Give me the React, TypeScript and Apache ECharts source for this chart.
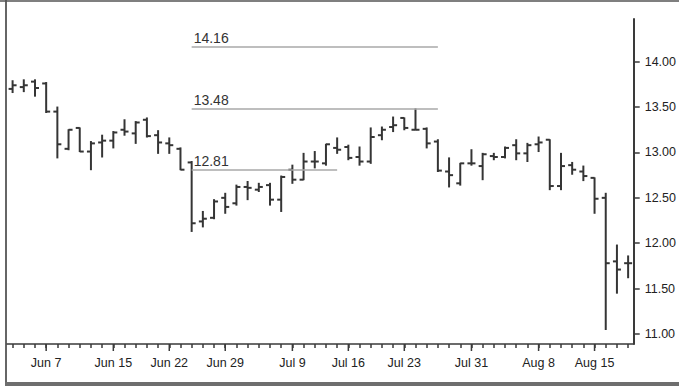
import React, { useEffect, useRef } from 'react';
import * as echarts from 'echarts';

// Trading days (weekdays) Jun 4 – Aug 20
const dates = [
  'Jun 4', 'Jun 5', 'Jun 6', 'Jun 7', 'Jun 8',
  'Jun 11', 'Jun 12', 'Jun 13', 'Jun 14', 'Jun 15',
  'Jun 18', 'Jun 19', 'Jun 20', 'Jun 21', 'Jun 22',
  'Jun 25', 'Jun 26', 'Jun 27', 'Jun 28', 'Jun 29',
  'Jul 2', 'Jul 3', 'Jul 4', 'Jul 5', 'Jul 6',
  'Jul 9', 'Jul 10', 'Jul 11', 'Jul 12', 'Jul 13',
  'Jul 16', 'Jul 17', 'Jul 18', 'Jul 19', 'Jul 20',
  'Jul 23', 'Jul 24', 'Jul 25', 'Jul 26', 'Jul 27',
  'Jul 30', 'Jul 31', 'Aug 1', 'Aug 2', 'Aug 3',
  'Aug 6', 'Aug 7', 'Aug 8', 'Aug 9', 'Aug 10',
  'Aug 13', 'Aug 14', 'Aug 15', 'Aug 16', 'Aug 17',
  'Aug 20',
];

const xLabels = ['Jun 7', 'Jun 15', 'Jun 22', 'Jun 29', 'Jul 9', 'Jul 16', 'Jul 23', 'Jul 31', 'Aug 8', 'Aug 15'];
const yTicks = [11, 11.5, 12, 12.5, 13, 13.5, 14];

const opens = [
  13.70, 13.72, 13.78, 13.76, 13.45, 13.04, 13.27, 13.01, 13.11, 13.13,
  13.25, 13.21, 13.36, 13.19, 13.10, 13.04, 12.89, 12.24, 12.28, 12.50,
  12.44, 12.62, 12.59, 12.64, 12.48, 12.81, 12.70, 12.90, 12.88, 13.05,
  13.06, 12.95, 12.90, 13.19, 13.28, 13.38, 13.25, 13.26, 13.12, 12.79,
  12.66, 12.88, 12.85, 12.96, 12.95, 13.08, 12.99, 13.09, 13.14, 12.63,
  12.86, 12.79, 12.72, 12.50, 11.80, 11.78,
];
const highs = [
  13.79, 13.80, 13.80, 13.77, 13.50, 13.25, 13.27, 13.12, 13.19, 13.23,
  13.36, 13.34, 13.38, 13.24, 13.16, 13.05, 12.90, 12.35, 12.48, 12.55,
  12.64, 12.68, 12.66, 12.66, 12.74, 12.86, 12.99, 13.01, 13.09, 13.16,
  13.08, 13.06, 13.27, 13.28, 13.39, 13.38, 13.48, 13.27, 13.14, 12.94,
  12.88, 13.03, 12.99, 12.99, 13.06, 13.14, 13.10, 13.17, 13.14, 12.99,
  12.89, 12.85, 12.72, 12.55, 11.98, 11.86,
];
const lows = [
  13.66, 13.67, 13.62, 13.44, 12.94, 13.03, 13.01, 12.81, 12.95, 13.05,
  13.19, 13.10, 13.17, 12.99, 12.99, 12.81, 12.13, 12.18, 12.27, 12.33,
  12.42, 12.48, 12.57, 12.42, 12.35, 12.66, 12.70, 12.83, 12.86, 12.99,
  12.92, 12.86, 12.88, 13.14, 13.23, 13.25, 13.25, 13.05, 12.79, 12.62,
  12.64, 12.86, 12.70, 12.92, 12.94, 12.92, 12.90, 13.01, 12.59, 12.59,
  12.76, 12.69, 12.33, 11.05, 11.45, 11.62,
];
const closes = [
  13.74, 13.74, 13.71, 13.45, 13.09, 13.25, 13.01, 13.10, 13.13, 13.22,
  13.23, 13.33, 13.18, 13.11, 13.08, 12.81, 12.22, 12.27, 12.46, 12.40,
  12.62, 12.61, 12.62, 12.48, 12.73, 12.70, 12.90, 12.90, 13.09, 13.03,
  12.94, 12.90, 13.17, 13.25, 13.30, 13.27, 13.25, 13.10, 12.80, 12.75,
  12.88, 12.88, 12.98, 12.95, 13.05, 12.99, 13.08, 13.11, 12.63, 12.85,
  12.81, 12.74, 12.49, 11.78, 11.71, 11.78,
];

// Annotated price levels (start / end as trading-day indices)
const levels = [14.16, 13.48, 12.81];
const levelStart = [16, 16, 16];
const levelEnd = [38, 38, 29];

const Y_MIN = 10.89;
const Y_MAX = 14.47;
const FONT = "'Liberation Sans', Arial, Helvetica, sans-serif";
const BAR = '#353535';
const AXIS = '#3a3a3a';

export default function App() {
  const ref = useRef<HTMLDivElement>(null);

  useEffect(() => {
    if (!ref.current) return;
    const chart = echarts.init(ref.current, undefined, { renderer: 'svg' });

    const ohlc = dates.map((d, i) => [i, opens[i], highs[i], lows[i], closes[i]]);
    const labelTicks = xLabels.map((l) => [dates.indexOf(l)]);

    chart.setOption({
      animation: false,
      backgroundColor: '#ffffff',
      grid: { left: 7, right: 45, top: 19, bottom: 42, containLabel: false },
      xAxis: {
        type: 'category',
        data: dates,
        boundaryGap: true,
        axisLine: { show: true, lineStyle: { color: AXIS, width: 1.5 } },
        axisTick: { show: true, interval: 0, alignWithLabel: true, length: 4, lineStyle: { color: AXIS, width: 1.5 } },
        axisLabel: {
          interval: (_i: number, v: string) => xLabels.includes(v),
          margin: 12,
          fontSize: 12.5,
          color: '#222',
          fontFamily: FONT,
        },
        splitLine: { show: false },
      },
      yAxis: {
        type: 'value',
        position: 'right',
        min: Y_MIN,
        max: Y_MAX,
        axisLine: { show: true, lineStyle: { color: AXIS, width: 2 } },
        axisTick: { show: true, length: 6, customValues: yTicks, lineStyle: { color: AXIS, width: 1.5 } },
        axisLabel: {
          customValues: yTicks,
          formatter: (v: number) => v.toFixed(2),
          margin: 11,
          fontSize: 12.5,
          color: '#222',
          fontFamily: FONT,
        },
        splitLine: { show: false },
      },
      graphic: [
        { type: 'line', shape: { x1: 6, y1: 0, x2: 6, y2: 383 }, style: { stroke: '#333', lineWidth: 1.5 } },
        { type: 'line', shape: { x1: 0, y1: 1, x2: 679, y2: 1 }, style: { stroke: '#555', lineWidth: 1.5 } },
        { type: 'rect', shape: { x: 5, y: 382, width: 674, height: 4 }, style: { fill: '#6e6e6e' } },
      ],
      series: [
        {
          type: 'custom',
          name: 'OHLC',
          data: ohlc,
          encode: { x: 0, y: [1, 2, 3, 4] },
          renderItem: (_params: any, api: any) => {
            const i = api.value(0);
            const pO = api.coord([i, api.value(1)]);
            const pH = api.coord([i, api.value(2)]);
            const pL = api.coord([i, api.value(3)]);
            const pC = api.coord([i, api.value(4)]);
            const x = pO[0];
            const t = 4;
            const style = { stroke: BAR, lineWidth: 2, fill: null };
            return {
              type: 'group',
              children: [
                { type: 'line', shape: { x1: x, y1: pH[1] - 0.5, x2: x, y2: pL[1] + 0.5 }, style },
                { type: 'line', shape: { x1: x - t, y1: pO[1], x2: x, y2: pO[1] }, style },
                { type: 'line', shape: { x1: x, y1: pC[1], x2: x + t, y2: pC[1] }, style },
              ],
            };
          },
          markLine: {
            silent: true,
            symbol: 'none',
            animation: false,
            lineStyle: { color: '#a8a8a8', width: 1.6, type: 'solid' },
            label: {
              show: true,
              position: 'insideStartTop',
              formatter: '{b}',
              color: '#333',
              fontSize: 14,
              fontFamily: FONT,
              distance: 2,
            },
            data: levels.map((lv, k) => [
              { name: lv.toFixed(2), coord: [levelStart[k], lv] },
              { coord: [levelEnd[k], lv] },
            ]),
          },
          z: 3,
        },
        {
          type: 'custom',
          name: 'labelTicks',
          data: labelTicks,
          encode: { x: 0 },
          clip: false,
          silent: true,
          renderItem: (_params: any, api: any) => {
            const p = api.coord([api.value(0), Y_MIN]);
            return {
              type: 'line',
              shape: { x1: p[0], y1: p[1], x2: p[0], y2: p[1] + 7 },
              style: { stroke: AXIS, lineWidth: 1.5 },
            };
          },
        },
      ],
    });

    return () => chart.dispose();
  }, []);

  return (
    <div
      ref={ref}
      style={{ position: 'fixed', left: 0, top: 0, width: 679, height: 386, background: '#fff' }}
    />
  );
}
